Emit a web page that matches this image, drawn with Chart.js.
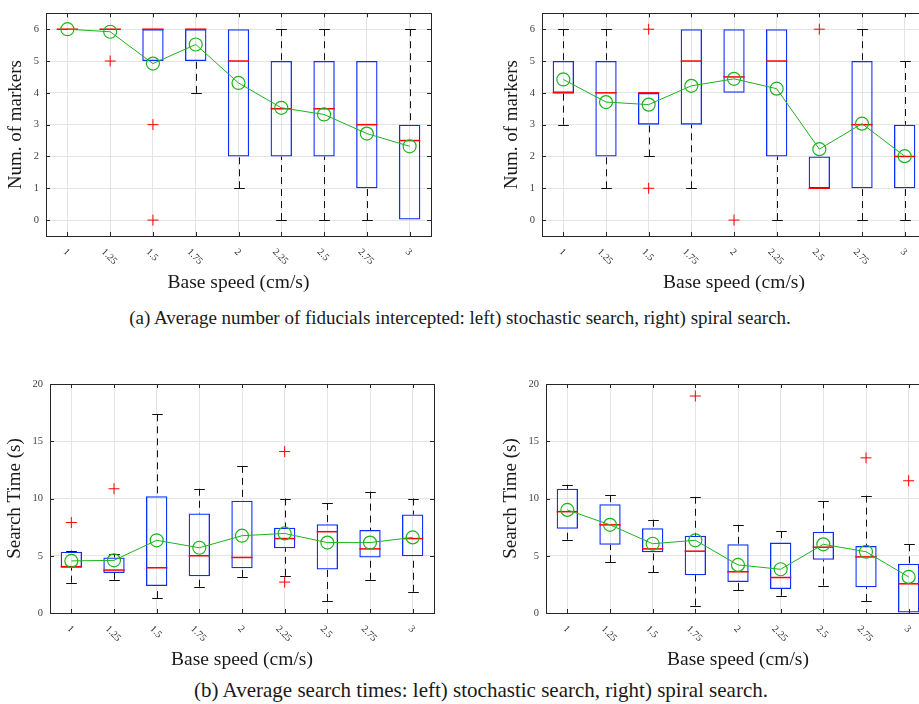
<!DOCTYPE html>
<html>
<head>
<meta charset="utf-8">
<script src="https://cdn.jsdelivr.net/npm/chart.js@4.4.1/dist/chart.umd.min.js"></script>
<style>
  html, body { margin: 0; padding: 0; background: #fff; }
  body { width: 919px; height: 704px; position: relative; overflow: hidden; font-family: 'Liberation Serif', 'Times New Roman', serif; }
  canvas { position: absolute; }
  .caption { position: absolute; white-space: nowrap; font-size: 19px; line-height: 22px; color: #1a1a1a; transform: translateX(-50%); }
</style>
</head>
<body>
<canvas id="tl" width="460" height="294" style="left:0px;top:0px"></canvas>
<canvas id="tr" width="459" height="294" style="left:496px;top:0px"></canvas>
<canvas id="bl" width="460" height="300" style="left:0px;top:370px"></canvas>
<canvas id="br" width="460" height="300" style="left:496px;top:370px"></canvas>
<div class="caption" style="left:460px;top:307px">(a) Average number of fiducials intercepted: left) stochastic search, right) spiral search.</div>
<div class="caption" style="left:481px;top:678px;font-size:21px;line-height:24px">(b) Average search times: left) stochastic search, right) spiral search.</div>
<script>
const speeds = ['1', '1.25', '1.5', '1.75', '2', '2.25', '2.5', '2.75', '3'];
const markerTicks = [0, 1, 2, 3, 4, 5, 6];
const timeTicks = [0, 5, 10, 15, 20];

// (a) left: stochastic search, markers intercepted
const tlLow  = [6, 6, 5, 4, 1, 0, 0, 0, 0];
const tlQ1   = [6, 6, 5, 5, 2, 2, 2, 1, 0];
const tlMed  = [6, 6, 6, 6, 5, 3.5, 3.5, 3, 2.5];
const tlQ3   = [6, 6, 6, 6, 6, 5, 5, 5, 3];
const tlHigh = [6, 6, 6, 6, 6, 6, 6, 5, 6];
const tlMean = [6.0, 5.92, 4.92, 5.52, 4.31, 3.53, 3.32, 2.72, 2.32];
const tlOutX = ['1.25', '1.5', '1.5'];
const tlOutY = [5, 3, 0];

// (a) right: spiral search, markers intercepted
const trLow  = [3, 1, 2, 1, 4, 0, 1, 0, 0];
const trQ1   = [4, 2, 3, 3, 4, 2, 1, 1, 1];
const trMed  = [4, 4, 4, 5, 4.5, 5, 1, 3, 2];
const trQ3   = [5, 5, 4, 6, 6, 6, 2, 5, 3];
const trHigh = [6, 6, 4, 6, 6, 6, 2, 6, 5];
const trMean = [4.42, 3.71, 3.63, 4.22, 4.44, 4.13, 2.23, 3.03, 2.01];
const trOutX = ['1.5', '1.5', '2', '2.5'];
const trOutY = [6, 1, 0, 6];

// (b) left: stochastic search, search time
const blLow  = [2.65, 2.9, 1.3, 2.3, 3.15, 3.25, 1.05, 2.9, 1.85];
const blQ1   = [3.95, 3.5, 2.35, 3.2, 3.9, 5.65, 3.8, 4.85, 4.95];
const blMed  = [4.05, 3.75, 3.95, 5.0, 4.85, 6.5, 7.1, 5.6, 6.5];
const blQ3   = [5.35, 4.85, 10.2, 8.7, 9.8, 7.45, 7.75, 7.25, 8.6];
const blHigh = [5.45, 5.15, 17.35, 10.85, 12.85, 10.0, 9.6, 10.6, 10.0];
const blMean = [4.55, 4.6, 6.35, 5.7, 6.75, 6.95, 6.15, 6.15, 6.6];
const blOutX = ['1', '1.25', '2.25', '2.25'];
const blOutY = [7.9, 10.85, 14.1, 2.7];

// (b) right: spiral search, search time
const brLow  = [6.4, 4.45, 3.55, 0.65, 2.0, 1.5, 2.4, 1.05, 0];
const brQ1   = [7.35, 5.95, 5.3, 3.3, 2.7, 2.1, 4.65, 2.25, 0];
const brMed  = [8.85, 7.7, 5.6, 5.4, 3.6, 3.1, 5.75, 4.9, 2.55];
const brQ3   = [10.85, 9.5, 7.4, 6.75, 6.0, 6.15, 7.1, 5.85, 4.3];
const brHigh = [11.2, 10.3, 8.15, 10.15, 7.7, 7.15, 9.75, 10.25, 6.0];
const brMean = [9.0, 7.7, 6.05, 6.35, 4.2, 3.82, 6.0, 5.35, 3.15];
const brOutX = ['1.75', '2.75', '3'];
const brOutY = [18.95, 13.55, 11.55];

const serif = "'Liberation Serif', 'Times New Roman', serif";
const blue = '#0d2dff';
const red = '#ff0000';
const green = '#1cb31c';

// whiskers, caps, medians, frame, inward ticks, rotated x labels
function boxPlugin(st) {
  return {
    id: 'boxPlot',
    afterDatasetDraw(chart, args) {
      if (args.index !== 0) return;
      const { ctx, scales: { x, y } } = chart;
      ctx.save();
      st.q1.forEach((q1, i) => {
        const bar = args.meta.data[i];
        const cx = Math.round(bar.x) + 0.5;
        const w = bar.width;
        const whisk = (from, to) => {
          if (from === to) return;
          const py0 = y.getPixelForValue(from), py1 = y.getPixelForValue(to);
          ctx.lineWidth = 1;
          ctx.strokeStyle = '#111';
          ctx.setLineDash([7, 5]);
          ctx.beginPath(); ctx.moveTo(cx, py1); ctx.lineTo(cx, py0); ctx.stroke();
          ctx.setLineDash([]);
          ctx.beginPath(); ctx.moveTo(cx - w / 4, Math.round(py1) + 0.5); ctx.lineTo(cx + w / 4, Math.round(py1) + 0.5); ctx.stroke();
        };
        whisk(st.q3[i], st.high[i]);
        whisk(q1, st.low[i]);
        const pm = y.getPixelForValue(st.med[i]);
        ctx.setLineDash([]);
        ctx.lineWidth = 1.5;
        ctx.strokeStyle = red;
        ctx.beginPath(); ctx.moveTo(bar.x - w / 2, pm); ctx.lineTo(bar.x + w / 2, pm); ctx.stroke();
      });
      ctx.restore();
    },
    afterDraw(chart) {
      const { ctx, chartArea: a, scales: { x, y } } = chart;
      ctx.save();
      ctx.strokeStyle = '#262626';
      ctx.lineWidth = 1;
      ctx.strokeRect(Math.round(a.left) + 0.5, Math.round(a.top) + 0.5, Math.round(a.right - a.left), Math.round(a.bottom - a.top));
      ctx.beginPath();
      y.ticks.forEach(t => {
        const py = Math.round(y.getPixelForValue(t.value)) + 0.5;
        ctx.moveTo(a.left, py); ctx.lineTo(a.left + 4, py);
        ctx.moveTo(a.right, py); ctx.lineTo(a.right - 4, py);
      });
      speeds.forEach((s, i) => {
        const px = Math.round(x.getPixelForValue(i)) + 0.5;
        ctx.moveTo(px, a.bottom); ctx.lineTo(px, a.bottom - 4);
        ctx.moveTo(px, a.top); ctx.lineTo(px, a.top + 4);
      });
      ctx.stroke();
      ctx.fillStyle = '#333';
      ctx.font = '10px ' + serif;
      ctx.textAlign = 'center';
      ctx.textBaseline = 'middle';
      speeds.forEach((s, i) => {
        const w = ctx.measureText(s).width;
        const cx = x.getPixelForValue(i) - 1;
        const cy = a.bottom + 12 + (w / 2 + 3.5) * 0.7071;
        ctx.save();
        ctx.translate(cx, cy);
        ctx.rotate(Math.PI / 4);
        ctx.fillText(s, 0, 0);
        ctx.restore();
      });
      ctx.fillStyle = '#1a1a1a';
      ctx.font = '19.5px ' + serif;
      ctx.fillText('Base speed (cm/s)', (a.left + a.right) / 2, a.bottom + 46.5);
      ctx.restore();
    }
  };
}

function drawBoxChart(id, st, opt) {
  new Chart(document.getElementById(id), {
    data: {
      labels: speeds,
      datasets: [
        {
          type: 'bar',
          data: st.q1.map((v, i) => [v, st.q3[i]]),
          backgroundColor: 'rgba(0,0,0,0)',
          borderColor: blue,
          borderWidth: 1.3,
          borderSkipped: false,
          barPercentage: 0.5,
          categoryPercentage: 1,
          order: 3
        },
        {
          type: 'line',
          data: st.outX.map((c, i) => ({ x: c, y: st.outY[i] })),
          showLine: false,
          pointStyle: 'cross',
          pointRadius: 5.5,
          pointBorderColor: red,
          pointBorderWidth: 1,
          order: 1
        },
        {
          type: 'line',
          data: st.mean,
          borderColor: green,
          borderWidth: 1,
          tension: 0,
          pointStyle: 'circle',
          pointRadius: 6.5,
          pointBackgroundColor: 'rgba(0,0,0,0)',
          pointBorderColor: green,
          pointBorderWidth: 1.2,
          order: 0
        }
      ]
    },
    options: {
      responsive: false,
      animation: false,
      devicePixelRatio: 1,
      layout: { padding: { left: 0, top: opt.top, right: opt.right, bottom: 0 } },
      plugins: { legend: { display: false }, tooltip: { enabled: false } },
      scales: {
        x: {
          type: 'category',
          offset: true,
          grid: { offset: false, color: '#e4e4e4', drawTicks: false },
          border: { display: false },
          ticks: { display: false },
          afterFit: s => { s.height = opt.xHeight; }
        },
        y: {
          min: opt.min,
          max: opt.max,
          afterBuildTicks: s => { s.ticks = opt.ticks.map(v => ({ value: v })); },
          afterFit: s => { s.width = opt.yWidth; },
          grid: { color: '#e4e4e4', drawTicks: false },
          border: { display: false },
          ticks: { font: { family: serif, size: 10.5 }, color: '#404040', padding: 7 },
          title: {
            display: true,
            text: opt.yTitle,
            color: '#1a1a1a',
            font: { family: serif, size: 19 },
            padding: { top: opt.titlePad, bottom: 0 }
          }
        }
      }
    },
    plugins: [boxPlugin(st)]
  });
}

const topOpt = { min: -0.5, max: 6.5, ticks: markerTicks, yTitle: 'Num. of markers', top: 7, right: 29, xHeight: 58, yWidth: 46, titlePad: 4.5 };
const botOpt = { min: 0, max: 20, ticks: timeTicks, yTitle: 'Search Time (s)', top: 14, right: 26, xHeight: 57, yWidth: 50, titlePad: 3.5 };

drawBoxChart('tl', { low: tlLow, q1: tlQ1, med: tlMed, q3: tlQ3, high: tlHigh, mean: tlMean, outX: tlOutX, outY: tlOutY }, topOpt);
drawBoxChart('tr', { low: trLow, q1: trQ1, med: trMed, q3: trQ3, high: trHigh, mean: trMean, outX: trOutX, outY: trOutY }, topOpt);
drawBoxChart('bl', { low: blLow, q1: blQ1, med: blMed, q3: blQ3, high: blHigh, mean: blMean, outX: blOutX, outY: blOutY }, botOpt);
drawBoxChart('br', { low: brLow, q1: brQ1, med: brMed, q3: brQ3, high: brHigh, mean: brMean, outX: brOutX, outY: brOutY }, botOpt);
</script>
</body>
</html>
